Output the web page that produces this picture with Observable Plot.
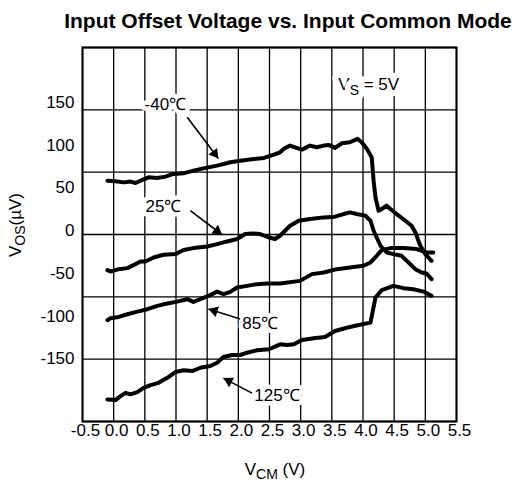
<!DOCTYPE html>
<html><head><meta charset="utf-8">
<script src="https://cdn.jsdelivr.net/npm/d3@7"></script>
<script src="https://cdn.jsdelivr.net/npm/@observablehq/plot@0.6"></script>
<style>
body{margin:0;background:#fff}
svg{font-family:"Liberation Sans",Arial,Helvetica,sans-serif}
</style>
</head><body><div id="chart"></div>
<script>
// ---- data ----
const xTicks = [-0.5,0,0.5,1,1.5,2,2.5,3,3.5,4,4.5,5,5.5];
const xTickLabels = ["-0.5","0.0","0.5","1.0","1.5","2.0","2.5","3.0","3.5","4.0","4.5","5.0","5.5"];
const yTicks = [150,100,50,0,-50,-100,-150];
const yTickLabels = ["150","100","50","0","-50","-100","-150"];
const yDomain = [-223,214];
const yGrid = [-223,-150.2,-77.3,-4.5,68.3,141.2,214];

const seriesNames = ["-40℃","25℃","85℃","125℃"];
const curveM40 = [[-0.10,58.4],[0.03,57.6],[0.16,56.4],[0.27,57.3],[0.35,55.7],[0.46,59.3],[0.56,62.3],[0.70,61.6],[0.83,63.1],[0.96,66.3],[1.12,67.0],[1.28,70.1],[1.44,72.8],[1.66,76.0],[1.87,79.9],[2.06,81.9],[2.25,83.8],[2.41,85.0],[2.57,88.9],[2.67,91.6],[2.73,95.6],[2.83,99.4],[2.91,97.4],[3.02,94.7],[3.15,99.4],[3.26,97.4],[3.37,99.4],[3.45,100.2],[3.55,96.7],[3.66,102.1],[3.79,103.3],[3.91,107.3],[3.98,103.3],[4.06,95.6],[4.14,85.7],[4.17,58.4],[4.20,38.9],[4.25,23.3],[4.30,25.3],[4.38,29.2],[4.44,25.3],[4.54,19.4],[4.68,11.6],[4.78,5.7],[4.84,-2.1],[4.89,-11.8],[4.92,-17.7],[5.00,-27.4],[5.10,-35.2]];
const curve25 = [[-0.10,-46.1],[-0.05,-47.8],[0.08,-45.0],[0.22,-43.8],[0.35,-39.1],[0.43,-36.1],[0.51,-36.1],[0.64,-31.4],[0.80,-28.2],[0.99,-27.4],[1.12,-22.7],[1.28,-20.4],[1.50,-18.5],[1.66,-15.7],[1.82,-12.6],[1.98,-9.8],[2.11,-4.0],[2.22,-3.3],[2.35,-4.0],[2.49,-8.0],[2.59,-9.8],[2.67,-6.0],[2.83,5.7],[2.97,11.6],[3.15,13.6],[3.37,15.5],[3.55,16.3],[3.69,19.4],[3.79,21.3],[3.90,19.4],[4.04,17.4],[4.12,11.6],[4.17,-0.1],[4.22,-8.0],[4.28,-17.7],[4.38,-25.5],[4.49,-27.4],[4.62,-29.4],[4.73,-37.2],[4.84,-45.0],[4.94,-48.9],[5.02,-50.1],[5.10,-56.7]];
const curve85 = [[-0.10,-104.7],[-0.05,-102.3],[0.08,-100.8],[0.22,-97.7],[0.38,-94.6],[0.54,-91.8],[0.70,-87.9],[0.86,-85.2],[1.02,-82.9],[1.18,-80.1],[1.28,-83.3],[1.39,-80.1],[1.52,-76.2],[1.66,-71.2],[1.76,-74.2],[1.87,-71.5],[1.98,-66.5],[2.14,-64.5],[2.30,-62.5],[2.46,-61.8],[2.67,-61.8],[2.99,-58.7],[3.18,-50.8],[3.37,-48.9],[3.58,-45.0],[3.79,-43.1],[4.01,-41.1],[4.12,-37.2],[4.22,-29.4],[4.30,-22.7],[4.44,-20.4],[4.65,-20.4],[4.86,-21.5],[5.02,-25.5],[5.13,-25.5]];
const curve125 = [[-0.10,-197.2],[0.03,-198.0],[0.11,-193.3],[0.19,-189.5],[0.27,-191.3],[0.38,-188.6],[0.48,-183.6],[0.59,-180.5],[0.72,-177.8],[0.86,-171.9],[0.99,-165.2],[1.12,-163.2],[1.26,-164.1],[1.39,-160.2],[1.55,-158.2],[1.66,-154.3],[1.76,-147.7],[1.90,-145.3],[2.03,-145.3],[2.14,-142.6],[2.30,-139.8],[2.49,-138.6],[2.67,-132.8],[2.78,-133.6],[2.89,-132.8],[3.02,-127.8],[3.21,-125.8],[3.39,-124.2],[3.55,-117.2],[3.74,-113.4],[3.93,-110.2],[4.12,-107.5],[4.20,-78.2],[4.30,-69.6],[4.49,-64.5],[4.65,-67.2],[4.81,-68.4],[4.97,-71.2],[5.10,-76.2]];

const labelText = ["-40℃","25℃","85℃","125℃"];
const labelX = [0.83,0.80,2.35,2.62];
const labelY = [146.8,28.6,-108.4,-192.7];
const arrowX1 = [1.18,1.23,2.03,2.22];
const arrowY1 = [132.6,23.3,-103.2,-189.8];
const arrowX2 = [1.68,1.74,1.52,1.76];
const arrowY2 = [84.2,-4.8,-91.5,-172.3];
const noteX = 4.10, noteY = 170.7;

// ---- layout ----
const W = 521, H = 483, mL = 82, mR = 65, mT = 47, mB = 62;

const lines = [curveM40, curve25, curve85, curve125].flatMap((c, i) =>
  c.map(([x, y]) => ({series: seriesNames[i], x, y})));
const labels = labelText.map((t, i) => ({t, x: labelX[i], y: labelY[i]}));
const arrows = arrowX1.map((_, i) => ({x1: arrowX1[i], y1: arrowY1[i], x2: arrowX2[i], y2: arrowY2[i]}));

const sx = d3.scaleLinear([-0.5, 5.5], [mL, W - mR]);
const sy = d3.scaleLinear(yDomain, [H - mB, mT]);
const heads = arrows.map(a => {
  const x1 = sx(a.x1), y1 = sy(a.y1), x2 = sx(a.x2), y2 = sy(a.y2);
  const dx = x2 - x1, dy = y2 - y1, L = Math.hypot(dx, dy);
  const cx = x2 - dx / L * 6.2, cy = y2 - dy / L * 6.2;
  return {x: sx.invert(cx), y: sy.invert(cy), a: Math.atan2(dx, -dy) * 180 / Math.PI};
});

const plot = Plot.plot({
  width: W, height: H,
  marginLeft: mL, marginRight: mR, marginTop: mT, marginBottom: mB,
  x: {domain: [-0.5, 5.5], axis: null},
  y: {domain: yDomain},
  style: {fontFamily: '"Liberation Sans", Arial, sans-serif', background: "white"},
  marks: [
    Plot.ruleX(xTicks, {stroke: "black", strokeWidth: 1.3}),
    Plot.ruleY(yGrid, {stroke: "black", strokeWidth: 1.3}),
    Plot.frame({stroke: "black", strokeWidth: 2}),
    Plot.axisY(yTicks, {tickSize: 0, tickPadding: 8, fontSize: 17, tickFormat: (d, i) => yTickLabels[i], label: null, fill: "black"}),
    Plot.text(xTicks, {x: d => d, frameAnchor: "bottom", dy: 14, dx: 3, text: (d, i) => xTickLabels[i], fontSize: 17, fill: "black"}),
    Plot.line(lines, {x: "x", y: "y", z: "series", stroke: "black", strokeWidth: 4, strokeLinejoin: "round", strokeLinecap: "round"}),
    Plot.text(labels, {x: "x", y: "y", text: "t", fontSize: 17, fill: "black", stroke: "white", strokeWidth: 9, paintOrder: "stroke", strokeLinejoin: "round"}),
    Plot.link(arrows, {x1: "x1", y1: "y1", x2: "x2", y2: "y2", stroke: "black", strokeWidth: 1.6}),
    Plot.dot(heads, {x: "x", y: "y", symbol: "triangle", r: 4.0, rotate: "a", fill: "black", stroke: "none"})
  ]
});

document.getElementById("chart").appendChild(plot);
const svg = d3.select(plot);
const xs = plot.scale("x"), ys = plot.scale("y");

// title
svg.append("text").attr("x", 288).attr("y", 28).attr("text-anchor", "middle")
  .attr("font-size", 21).attr("font-weight", "bold").attr("fill", "black")
  .text("Input Offset Voltage vs. Input Common Mode");

// V_S = 5V note
const note = svg.append("text").attr("x", xs.apply(noteX)).attr("y", ys.apply(noteY) + 6)
  .attr("text-anchor", "middle").attr("font-size", 17).attr("fill", "black")
  .attr("stroke", "white").attr("stroke-width", 12).attr("paint-order", "stroke").attr("stroke-linejoin", "round");
note.append("tspan").text("V");
note.append("tspan").attr("dy", 5).attr("font-size", 14).text("S");
note.append("tspan").attr("dy", -5).text(" = 5V");

// y label
const yl = svg.append("text").attr("transform", "translate(21,225) rotate(-90)")
  .attr("text-anchor", "middle").attr("font-size", 17).attr("fill", "black");
yl.append("tspan").text("V");
yl.append("tspan").attr("dy", 4).attr("font-size", 14).text("OS");
yl.append("tspan").attr("dy", -4).text("(µV)");

// x label
const xl = svg.append("text").attr("x", 275).attr("y", 475)
  .attr("text-anchor", "middle").attr("font-size", 17).attr("fill", "black");
xl.append("tspan").text("V");
xl.append("tspan").attr("dy", 4).attr("font-size", 14).text("CM");
xl.append("tspan").attr("dy", -4).text(" (V)");
</script>
</body></html>
